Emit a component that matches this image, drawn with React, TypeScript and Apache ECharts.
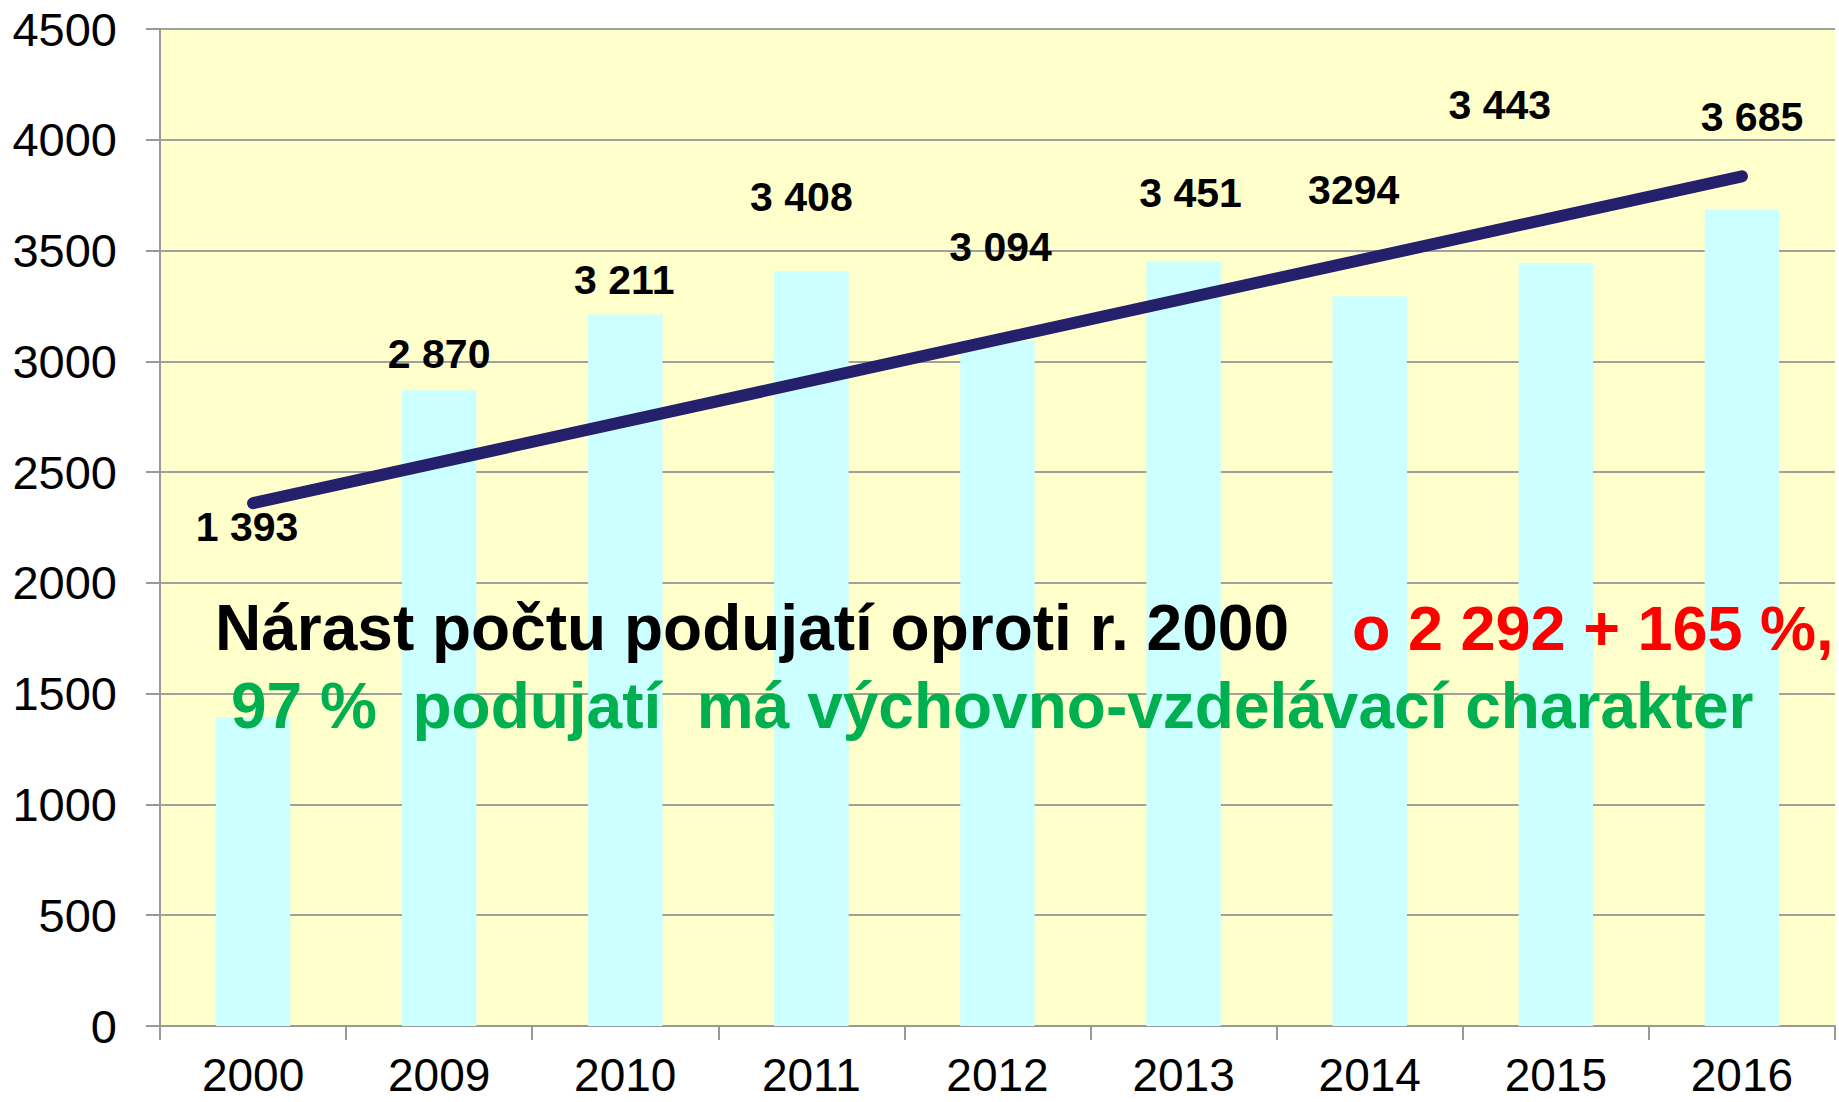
import React, { useEffect, useRef } from "react";
import * as echarts from "echarts";

const categories = ["2000", "2009", "2010", "2011", "2012", "2013", "2014", "2015", "2016"];
const eventCounts = [1393, 2870, 3211, 3408, 3094, 3451, 3294, 3443, 3685];
const valueLabels = ["1 393", "2 870", "3 211", "3 408", "3 094", "3 451", "3294", "3 443", "3 685"];
// trend line (start at 2000, end at 2016)
const trendLine = [2360, null, null, null, null, null, null, null, 3835];
const yTicks = { min: 0, max: 4500, interval: 500 };

const headlineBlack = "Nárast počtu podujatí oproti r. 2000";
const headlineRed = "o 2 292 + 165 %,";
const headlineGreen = "97 %  podujatí  má výchovno-vzdelávací charakter";

// label placement tweaks (pixels), one per bar
const labelOffsets = [
  [-6, -170],
  [0, -16],
  [-1, -15],
  [-10, -54],
  [3, -74],
  [7, -48],
  [-16, -86],
  [-56, -138],
  [10, -73],
];

export default function App() {
  const ref = useRef<HTMLDivElement>(null);
  useEffect(() => {
    if (!ref.current) return;
    const chart = echarts.init(ref.current, null, { renderer: "svg" });
    const font = "'Liberation Sans', Arial, sans-serif";
    chart.setOption({
      animation: false,
      backgroundColor: "#FFFFFF",
      textStyle: { fontFamily: font },
      grid: {
        left: 160,
        right: 4,
        top: 29,
        bottom: 76,
        show: true,
        backgroundColor: "#FFFFCC",
        borderWidth: 0,
        containLabel: false,
        outerBoundsMode: "none",
      },
      xAxis: {
        type: "category",
        data: categories,
        boundaryGap: true,
        axisLine: { lineStyle: { color: "#999999", width: 2 } },
        axisTick: { show: true, length: 14, lineStyle: { color: "#999999", width: 2 } },
        axisLabel: {
          color: "#000000",
          fontSize: 46,
          lineHeight: 44,
          fontFamily: font,
          margin: 27,
        },
        splitLine: { show: false },
      },
      yAxis: {
        type: "value",
        min: yTicks.min,
        max: yTicks.max,
        interval: yTicks.interval,
        axisLine: { show: true, lineStyle: { color: "#999999", width: 2 } },
        axisTick: { show: true, length: 14, lineStyle: { color: "#999999", width: 2 } },
        axisLabel: {
          color: "#000000",
          fontSize: 47,
          fontFamily: font,
          margin: 43,
          formatter: (v: number) => String(v),
        },
        splitLine: { show: true, lineStyle: { color: "#A0A0A0", width: 2 } },
      },
      series: [
        {
          type: "bar",
          data: eventCounts.map((v, i) => ({
            value: v,
            label: {
              show: true,
              position: "top",
              distance: 0,
              offset: labelOffsets[i],
              formatter: () => valueLabels[i],
            },
          })),
          barWidth: "40%",
          itemStyle: { color: "#CCFFFF" },
          label: {
            show: true,
            color: "#000000",
            fontSize: 41,
            fontWeight: "bold",
            fontFamily: font,
            lineHeight: 40,
          },
          z: 2,
        },
        {
          type: "line",
          data: trendLine,
          connectNulls: true,
          symbol: "none",
          lineStyle: { color: "#24206B", width: 12, cap: "round" },
          z: 3,
        },
      ],
      graphic: [
        {
          type: "text",
          x: 215,
          y: 628,
          z: 10,
          style: {
            text: headlineBlack,
            fill: "#000000",
            font: `bold 64px ${font}`,
            verticalAlign: "middle",
            align: "left",
          },
        },
        {
          type: "text",
          x: 1352,
          y: 628,
          z: 10,
          style: {
            text: headlineRed,
            fill: "#FF0000",
            font: `bold 63px ${font}`,
            verticalAlign: "middle",
            align: "left",
          },
        },
        {
          type: "text",
          x: 231,
          y: 706,
          z: 10,
          style: {
            text: headlineGreen,
            fill: "#00B050",
            font: `bold 64px ${font}`,
            verticalAlign: "middle",
            align: "left",
          },
        },
      ],
    });
    return () => chart.dispose();
  }, []);
  return (
    <div
      ref={ref}
      style={{ position: "fixed", left: 0, top: 0, width: 1839, height: 1102 }}
    />
  );
}
